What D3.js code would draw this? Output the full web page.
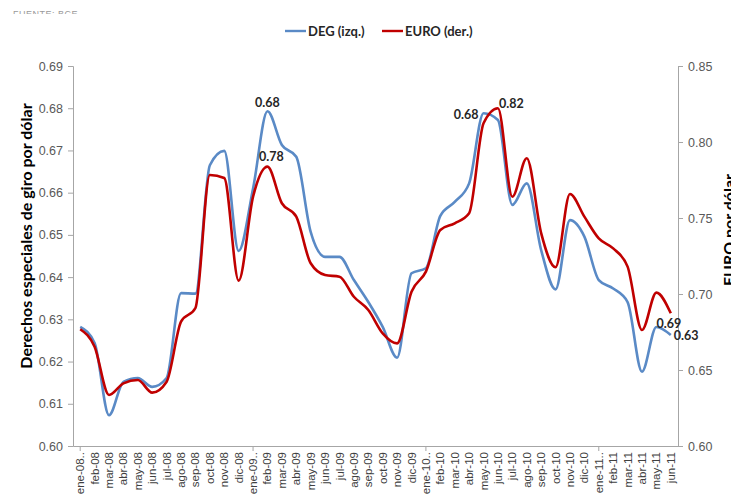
<!DOCTYPE html>
<html>
<head>
<meta charset="utf-8">
<script src="https://cdn.jsdelivr.net/npm/d3@7"></script>
<style>
  html, body { margin: 0; padding: 0; background: #fff; }
  svg { display: block; }
</style>
</head>
<body>
<svg id="chart" width="731" height="496"></svg>
<script>
// ---- data ----
const months = ["ene-08..","feb-08","mar-08","abr-08","may-08","jun-08","jul-08","ago-08","sep-08","oct-08","nov-08","dic-08",
  "ene-09..","feb-09","mar-09","abr-09","may-09","jun-09","jul-09","ago-09","sep-09","oct-09","nov-09","dic-09",
  "ene-10..","feb-10","mar-10","abr-10","may-10","jun-10","jul-10","ago-10","sep-10","oct-10","nov-10","dic-10",
  "ene-11..","feb-11","mar-11","abr-11","may-11","jun-11"];
const degValues = [0.6282,0.6244,0.6073,0.6152,0.6161,0.6140,0.6161,0.6362,0.6361,0.6665,0.6699,0.6462,
  0.6610,0.6793,0.6713,0.6685,0.6507,0.6448,0.6448,0.6393,0.6341,0.6282,0.6209,0.6409,
  0.6421,0.6545,0.6578,0.6622,0.6788,0.6772,0.6571,0.6622,0.6464,0.6371,0.6535,0.6496,
  0.6393,0.6373,0.6341,0.6176,0.6282,0.6263];
const euroValues = [0.6768,0.6653,0.6336,0.6412,0.6434,0.6351,0.6423,0.6818,0.6908,0.7783,0.7763,0.7088,
  0.7640,0.7838,0.7597,0.7509,0.7202,0.7125,0.7114,0.6982,0.6895,0.6741,0.6675,0.7015,
  0.7147,0.7421,0.7465,0.7531,0.8123,0.8222,0.7640,0.7893,0.7401,0.7176,0.7658,0.7509,
  0.7366,0.7300,0.7180,0.6763,0.7009,0.6873];
const leftTicks = [0.60,0.61,0.62,0.63,0.64,0.65,0.66,0.67,0.68,0.69];
const rightTicks = [0.60,0.65,0.70,0.75,0.80,0.85];
const yearTicks = ["ene-08..","ene-09..","ene-10..","ene-11.."];
const seriesNames = ["DEG (izq.)","EURO (der.)"];
const dataLabels = [
  {series:"deg", month:"feb-09", text:"0.68"},
  {series:"euro", month:"feb-09", text:"0.78"},
  {series:"deg", month:"may-10", text:"0.68"},
  {series:"euro", month:"jun-10", text:"0.82"},
  {series:"euro", month:"jun-11", text:"0.69"},
  {series:"deg", month:"jun-11", text:"0.63"}
];

// ---- layout ----
const svg = d3.select("#chart");
const L = 73, R = 678, T = 66, B = 446;
const blue = "#5A8AC6", red = "#C00000";
const axisColor = "#A6A6A6", tickText = "#595959";
const boldFont = "Lato, 'Open Sans', sans-serif";
const plainFont = "'Liberation Sans', Arial, sans-serif";

const x = d3.scaleBand().domain(months).range([L, R]).padding(0);
const xc = m => x(m) + x.bandwidth() / 2;
const yL = d3.scaleLinear().domain([0.60, 0.69]).range([B, T]);
const yR = d3.scaleLinear().domain([0.60, 0.85]).range([B, T]);

// faint header (scan artifact)
const clip = svg.append("clipPath").attr("id","hdrclip");
clip.append("rect").attr("x",0).attr("y",9).attr("width",200).attr("height",5);
svg.append("text").attr("x",13).attr("y",17).attr("clip-path","url(#hdrclip)")
  .attr("font-family",plainFont).attr("font-size",9).attr("fill","#9a9a9a")
  .attr("letter-spacing","0.5").text("FUENTE: BCE");

// left axis
const gL = svg.append("g").attr("transform",`translate(${L},0)`)
  .call(d3.axisLeft(yL).tickValues(leftTicks).tickFormat(d3.format(".2f")).tickSizeOuter(0).tickSize(5).tickPadding(5));
// right axis
const gR = svg.append("g").attr("transform",`translate(${R},0)`)
  .call(d3.axisRight(yR).tickValues(rightTicks).tickFormat(d3.format(".2f")).tickSizeOuter(0).tickSize(5).tickPadding(5));
[gL, gR].forEach(g => {
  g.select(".domain").attr("stroke",axisColor).attr("stroke-width",1);
  g.selectAll(".tick line").attr("stroke",axisColor);
  g.selectAll(".tick text").attr("fill",tickText).attr("font-family",plainFont).attr("font-size",12.5);
});

// bottom axis
const gB = svg.append("g").attr("transform",`translate(0,${B})`)
  .call(d3.axisBottom(x).tickSize(0).tickPadding(0).tickSizeOuter(0));
gB.select(".domain").attr("stroke",axisColor);
gB.selectAll(".tick text")
  .attr("transform","rotate(-90)")
  .attr("text-anchor","end")
  .attr("x",-6).attr("y",0).attr("dy","0.35em")
  .attr("fill","#404040").attr("font-family",plainFont).attr("font-size",11.5);
gB.selectAll(".tick")
  .filter(d => yearTicks.includes(d))
  .append("line").attr("y1",0).attr("y2",5).attr("stroke",axisColor);

// lines
const lineDeg = d3.line().x((d,i) => xc(months[i])).y(d => yL(d)).curve(d3.curveMonotoneX);
const lineEuro = d3.line().x((d,i) => xc(months[i])).y(d => yR(d)).curve(d3.curveMonotoneX);
svg.append("path").datum(degValues).attr("d",lineDeg).attr("fill","none")
  .attr("stroke",blue).attr("stroke-width",2.6).attr("stroke-linejoin","round");
svg.append("path").datum(euroValues).attr("d",lineEuro).attr("fill","none")
  .attr("stroke",red).attr("stroke-width",2.6).attr("stroke-linejoin","round");

// data labels
const offsets = {
  "deg|feb-09": {dx:0, dy:-9, anchor:"middle"},
  "euro|feb-09": {dx:4, dy:-10, anchor:"middle"},
  "deg|may-10": {dx:-5, dy:1, anchor:"end"},
  "euro|jun-10": {dx:1, dy:-5, anchor:"start"},
  "euro|jun-11": {dx:-2, dy:10, anchor:"middle"},
  "deg|jun-11": {dx:3, dy:1, anchor:"start"}
};
dataLabels.forEach(lb => {
  const i = months.indexOf(lb.month);
  const px = xc(lb.month);
  const py = lb.series === "deg" ? yL(degValues[i]) : yR(euroValues[i]);
  const o = offsets[lb.series + "|" + lb.month];
  svg.append("text").attr("x",px + o.dx).attr("y",py + o.dy).attr("dy","0.35em")
    .attr("text-anchor",o.anchor).attr("font-family",boldFont).attr("font-weight","bold")
    .attr("font-size",12.5).attr("fill","#262626").text(lb.text);
});

// axis titles
svg.append("text").attr("transform","translate(32,236) rotate(-90)")
  .attr("text-anchor","middle").attr("font-family",boldFont).attr("font-weight","bold")
  .attr("font-size",16).attr("fill","#000").text("Derechos especiales de giro por dólar");
svg.append("text").attr("transform","translate(735,230) rotate(-90)")
  .attr("text-anchor","middle").attr("font-family",boldFont).attr("font-weight","bold")
  .attr("font-size",16).attr("fill","#000").text("EURO por dólar");

// legend
const legend = svg.append("g");
const legendItems = [
  {name: seriesNames[0], color: blue, x: 285},
  {name: seriesNames[1], color: red, x: 382}
];
legendItems.forEach(it => {
  legend.append("line").attr("x1",it.x).attr("x2",it.x+21).attr("y1",31).attr("y2",31)
    .attr("stroke",it.color).attr("stroke-width",2.4);
  legend.append("text").attr("x",it.x+23).attr("y",31).attr("dy","0.35em")
    .attr("font-family",boldFont).attr("font-weight","bold").attr("font-size",13)
    .attr("fill","#262626").text(it.name);
});
</script>
</body>
</html>
